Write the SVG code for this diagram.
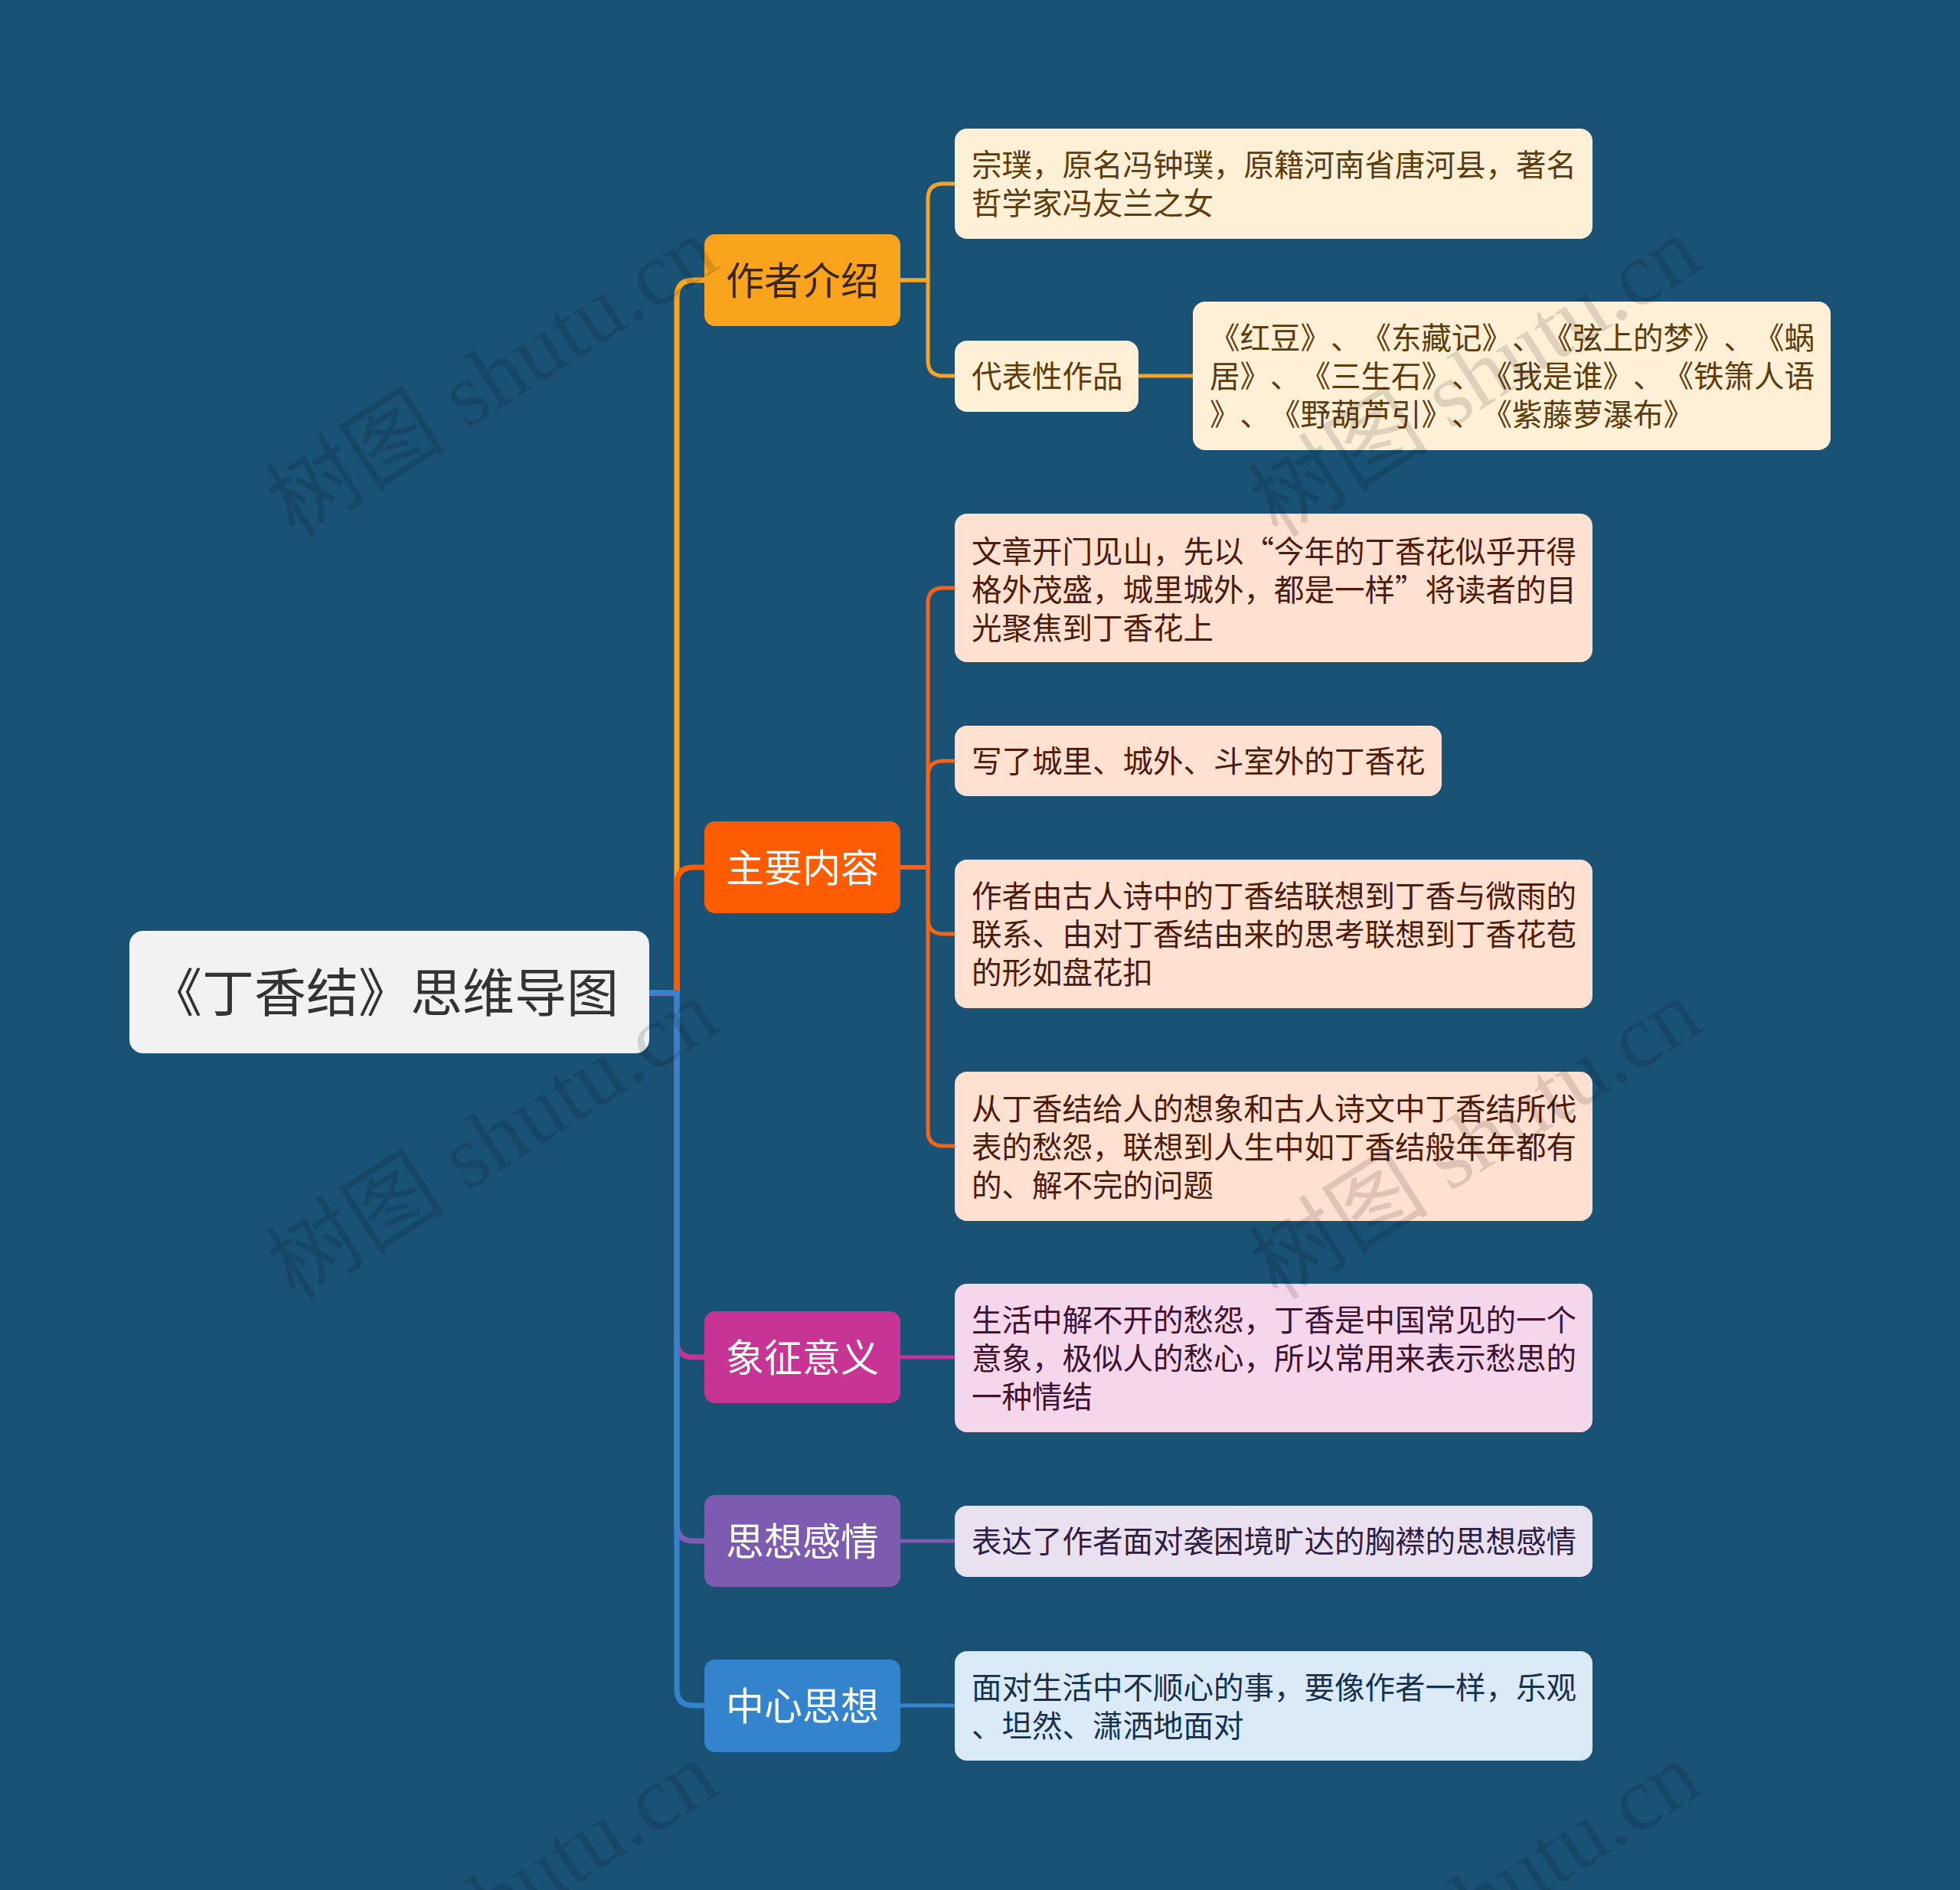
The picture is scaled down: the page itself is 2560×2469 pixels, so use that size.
<svg xmlns="http://www.w3.org/2000/svg" width="2560" height="2469" viewBox="0 0 2560 2469">
<style>
text{font-family:"Noto Sans CJK SC","Noto Sans",sans-serif;text-spacing-trim:space-all;font-kerning:none}
.leaf{font-size:39.5px}
.n1{font-size:50px;text-anchor:middle}
.ln{fill:none;stroke-linecap:butt;stroke-linejoin:round}
.trunk{stroke-width:7}
.sub{stroke-width:5}
.wm{font-family:"Liberation Serif","Noto Sans CJK SC",serif;font-size:118px;fill:#000000;fill-opacity:0.13}
</style>
<rect x="0" y="0" width="2560" height="2469" fill="#1A5276"/>

<g id="connectors" class="ln">
  <path class="trunk" stroke="#F7A51E" d="M848,1297 H884 V388 Q884,366 906,366 H920"/>
  <path class="trunk" stroke="#FB5C06" d="M848,1297 H884 V1155 Q884,1133 906,1133 H920"/>
  <path class="trunk" stroke="#C73493" d="M848,1297 H884 V1751 Q884,1773 906,1773 H920"/>
  <path class="trunk" stroke="#7C5BB0" d="M848,1297 H884 V1991 Q884,2013 906,2013 H920"/>
  <path class="trunk" stroke="#3484CD" d="M848,1297 H884 V2206 Q884,2228 906,2228 H920"/>

  <path class="sub" stroke="#F2A52A" d="M1176,366 H1212 V260 Q1212,240 1232,240 H1247"/>
  <path class="sub" stroke="#F2A52A" d="M1176,366 H1212 V471 Q1212,491 1232,491 H1247"/>
  <path class="sub" stroke="#F2A52A" d="M1487,491 H1558"/>

  <path class="sub" stroke="#F2641A" d="M1176,1133 H1212 V788 Q1212,768 1232,768 H1247"/>
  <path class="sub" stroke="#F2641A" d="M1176,1133 H1212 V1014 Q1212,994 1232,994 H1247"/>
  <path class="sub" stroke="#F2641A" d="M1176,1133 H1212 V1200 Q1212,1220 1232,1220 H1247"/>
  <path class="sub" stroke="#F2641A" d="M1176,1133 H1212 V1477 Q1212,1497 1232,1497 H1247"/>

  <path class="sub" stroke="#C73493" d="M1176,1773 H1247"/>
  <path class="sub" stroke="#7C5BB0" d="M1176,2013 H1247"/>
  <path class="sub" stroke="#3484CD" d="M1176,2228 H1247"/>
</g>

<g id="root">
  <rect x="169" y="1216" width="679" height="160" rx="18" fill="#F2F2F2"/>
  <text x="196" y="1322" font-size="68" fill="#333333">《丁香结》思维导图</text>
</g>

<g id="n-author">
  <rect x="920" y="306" width="256" height="120" rx="14" fill="#FAA41E"/>
  <text class="n1" x="1048" y="385" fill="#3A2608">作者介绍</text>
</g>
<g id="n-content">
  <rect x="920" y="1073" width="256" height="120" rx="14" fill="#FD5C02"/>
  <text class="n1" x="1048" y="1152" fill="#FFFFFF">主要内容</text>
</g>
<g id="n-symbol">
  <rect x="920" y="1713" width="256" height="120" rx="14" fill="#C73493"/>
  <text class="n1" x="1048" y="1792" fill="#FFFFFF">象征意义</text>
</g>
<g id="n-feeling">
  <rect x="920" y="1953" width="256" height="120" rx="14" fill="#7C5BB0"/>
  <text class="n1" x="1048" y="2032" fill="#FFFFFF">思想感情</text>
</g>
<g id="n-central">
  <rect x="920" y="2168" width="256" height="121" rx="14" fill="#3484CD"/>
  <text class="n1" x="1048" y="2247" fill="#FFFFFF">中心思想</text>
</g>

<g id="l-bio">
  <rect x="1247" y="168" width="833" height="144" rx="16" fill="#FEF0D7"/>
  <text class="leaf" fill="#5E3B0C"><tspan x="1269" y="230">宗璞，原名冯钟璞，原籍河南省唐河县，著名</tspan><tspan x="1269" y="280">哲学家冯友兰之女</tspan></text>
</g>
<g id="l-works-label">
  <rect x="1247" y="445" width="240" height="93" rx="16" fill="#FEF0D7"/>
  <text class="leaf" fill="#5E3B0C" x="1269" y="506">代表性作品</text>
</g>
<g id="l-works">
  <rect x="1558" y="394" width="833" height="194" rx="16" fill="#FEF0D7"/>
  <text class="leaf" fill="#5E3B0C"><tspan x="1580" y="456">《红豆》、《东藏记》、《弦上的梦》、《蜗</tspan><tspan x="1580" y="506">居》、《三生石》、《我是谁》、《铁箫人语</tspan><tspan x="1580" y="556">》、《野葫芦引》、《紫藤萝瀑布》</tspan></text>
</g>

<g id="l-c1">
  <rect x="1247" y="671" width="833" height="194" rx="16" fill="#FFE1D1"/>
  <text class="leaf" fill="#4D1A0B"><tspan x="1269" y="735">文章开门见山，先以“今年的丁香花似乎开得</tspan><tspan x="1269" y="785">格外茂盛，城里城外，都是一样”将读者的目</tspan><tspan x="1269" y="835">光聚焦到丁香花上</tspan></text>
</g>
<g id="l-c2">
  <rect x="1247" y="948" width="636" height="92" rx="16" fill="#FFE1D1"/>
  <text class="leaf" fill="#4D1A0B" x="1269" y="1009">写了城里、城外、斗室外的丁香花</text>
</g>
<g id="l-c3">
  <rect x="1247" y="1123" width="833" height="194" rx="16" fill="#FFE1D1"/>
  <text class="leaf" fill="#4D1A0B"><tspan x="1269" y="1185">作者由古人诗中的丁香结联想到丁香与微雨的</tspan><tspan x="1269" y="1235">联系、由对丁香结由来的思考联想到丁香花苞</tspan><tspan x="1269" y="1285">的形如盘花扣</tspan></text>
</g>
<g id="l-c4">
  <rect x="1247" y="1400" width="833" height="195" rx="16" fill="#FFE1D1"/>
  <text class="leaf" fill="#4D1A0B"><tspan x="1269" y="1463">从丁香结给人的想象和古人诗文中丁香结所代</tspan><tspan x="1269" y="1513">表的愁怨，联想到人生中如丁香结般年年都有</tspan><tspan x="1269" y="1563">的、解不完的问题</tspan></text>
</g>

<g id="l-symbol">
  <rect x="1247" y="1677" width="833" height="194" rx="16" fill="#F5D7EB"/>
  <text class="leaf" fill="#3F1230"><tspan x="1269" y="1739">生活中解不开的愁怨，丁香是中国常见的一个</tspan><tspan x="1269" y="1789">意象，极似人的愁心，所以常用来表示愁思的</tspan><tspan x="1269" y="1839">一种情结</tspan></text>
</g>
<g id="l-feeling">
  <rect x="1247" y="1967" width="833" height="93" rx="16" fill="#E9E1F0"/>
  <text class="leaf" fill="#2E1D45" x="1269" y="2028">表达了作者面对袭困境旷达的胸襟的思想感情</text>
</g>
<g id="l-central">
  <rect x="1247" y="2157" width="833" height="143" rx="16" fill="#DBEAF7"/>
  <text class="leaf" fill="#17304D"><tspan x="1269" y="2219">面对生活中不顺心的事，要像作者一样，乐观</tspan><tspan x="1269" y="2269">、坦然、潇洒地面对</tspan></text>
</g>

<g id="watermarks">
  <text class="wm" transform="translate(385,704) rotate(-32.5)">树图 shutu.cn</text>
  <text class="wm" transform="translate(1669,704) rotate(-32.5)">树图 shutu.cn</text>
  <text class="wm" transform="translate(385,1700) rotate(-32.5)">树图 shutu.cn</text>
  <text class="wm" transform="translate(1669,1700) rotate(-32.5)">树图 shutu.cn</text>
  <text class="wm" transform="translate(385,2696) rotate(-32.5)">树图 shutu.cn</text>
  <text class="wm" transform="translate(1669,2696) rotate(-32.5)">树图 shutu.cn</text>
</g>
</svg>
